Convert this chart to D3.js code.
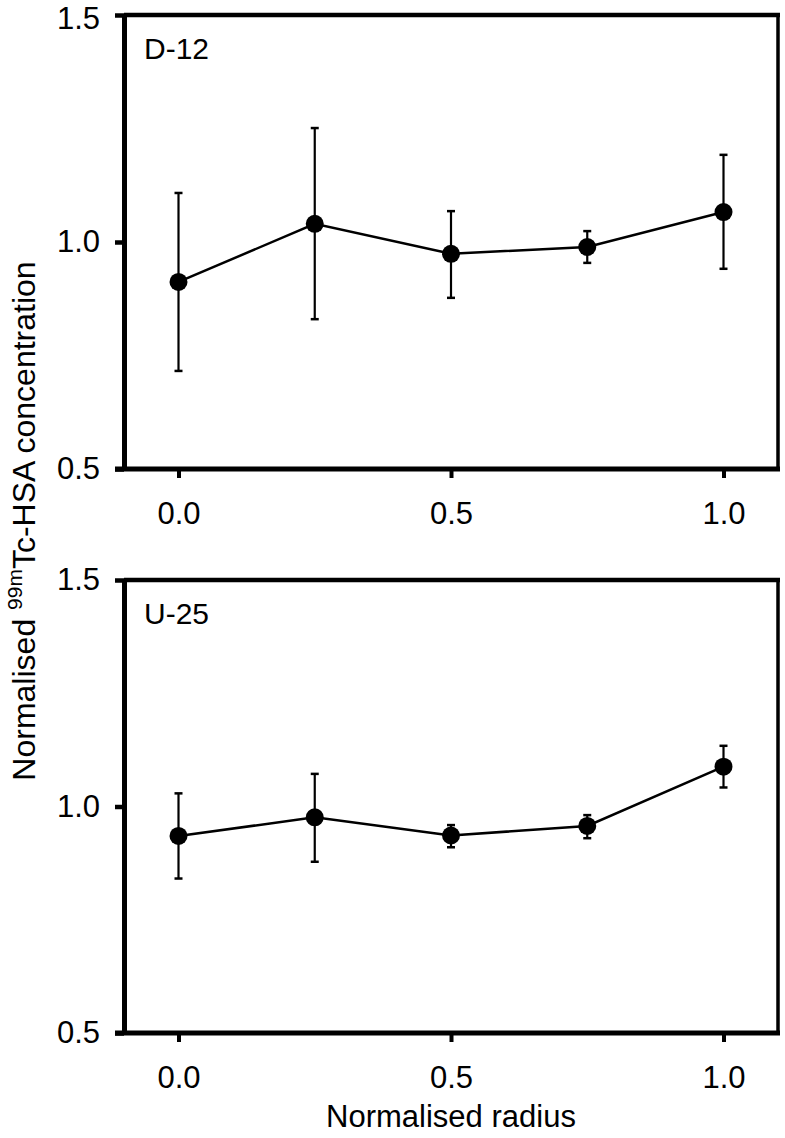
<!DOCTYPE html>
<html>
<head>
<meta charset="utf-8">
<script src="https://cdn.jsdelivr.net/npm/d3@7"></script>
<style>
  html, body { margin: 0; padding: 0; background: #fff; }
  svg { display: block; }
  text { font-family: "Liberation Sans", Arial, Helvetica, sans-serif; fill: #000; }
</style>
</head>
<body>
<svg id="chart" width="785" height="1138"></svg>
<script>
// ---- data ----
const radius = [0.0, 0.25, 0.5, 0.75, 1.0];
const xTickValues = [0.0, 0.5, 1.0];
const xTickLabels = ["0.0", "0.5", "1.0"];
const yTickValues = [0.5, 1.0, 1.5];
const yTickLabels = ["0.5", "1.0", "1.5"];

const panelNames = ["D-12", "U-25"];
const d12Mean  = [0.912, 1.040, 0.974, 0.989, 1.066];
const d12Upper = [1.108, 1.251, 1.068, 1.024, 1.192];
const d12Lower = [0.716, 0.830, 0.877, 0.954, 0.941];
const u25Mean  = [0.935, 0.976, 0.936, 0.957, 1.088];
const u25Upper = [1.029, 1.072, 0.959, 0.981, 1.134];
const u25Lower = [0.841, 0.878, 0.910, 0.930, 1.042];

const xTitle = "Normalised radius";

// ---- layout ----
const svg = d3.select("#chart");
const left = 124, right = 778;
const panels = [
  { name: panelNames[0], top: 15,  bottom: 469,  mean: d12Mean, upper: d12Upper, lower: d12Lower },
  { name: panelNames[1], top: 580, bottom: 1033, mean: u25Mean, upper: u25Upper, lower: u25Lower }
];
const FS = 31;

const x = d3.scaleLinear().domain([-0.1, 1.1]).range([left, right]);

panels.forEach((p, pi) => {
  const y = d3.scaleLinear().domain([0.5, 1.5]).range([p.bottom, p.top]);
  const g = svg.append("g");

  // top and right frame lines
  g.append("line").attr("x1", left).attr("x2", right + 2).attr("y1", p.top).attr("y2", p.top)
    .attr("stroke", "#000").attr("stroke-width", 4.5);
  g.append("line").attr("x1", right).attr("x2", right).attr("y1", p.top).attr("y2", p.bottom)
    .attr("stroke", "#000").attr("stroke-width", 3.5);

  // left axis
  const ya = g.append("g").attr("transform", `translate(${left},0)`)
    .call(d3.axisLeft(y).tickValues(yTickValues).tickFormat((d, i) => yTickLabels[i])
      .tickSizeInner(9).tickSizeOuter(0).tickPadding(15));
  ya.select(".domain").attr("stroke", "#000").attr("stroke-width", 5);
  ya.selectAll(".tick line").attr("stroke", "#000").attr("stroke-width", 4.5);
  ya.selectAll(".tick text").attr("font-size", FS).attr("font-family", "Liberation Sans, Arial, sans-serif");
  if (pi === 0) {
    // keep the top-most label inside the canvas
    ya.selectAll(".tick text").filter(d => d === 1.5).attr("dy", "0.42em");
  }

  // bottom axis
  const xa = g.append("g").attr("transform", `translate(0,${p.bottom})`)
    .call(d3.axisBottom(x).tickValues(xTickValues).tickFormat((d, i) => xTickLabels[i])
      .tickSizeInner(9).tickSizeOuter(0).tickPadding(24));
  xa.select(".domain").attr("stroke", "#000").attr("stroke-width", 5)
    .attr("d", `M${left - 9},0H${right + 2}`);
  xa.selectAll(".tick line").attr("stroke", "#000").attr("stroke-width", 4);
  xa.selectAll(".tick text").attr("font-size", FS).attr("font-family", "Liberation Sans, Arial, sans-serif");

  // panel label
  g.append("text").attr("x", left + 20).attr("y", p.top + 44)
    .attr("font-size", FS - 1).text(p.name);

  const pts = radius.map((r, i) => ({ r, m: p.mean[i], hi: p.upper[i], lo: p.lower[i] }));

  // error bars
  const eb = g.append("g").attr("stroke", "#000").attr("stroke-width", 2.2);
  pts.forEach(d => {
    eb.append("line").attr("x1", x(d.r)).attr("x2", x(d.r)).attr("y1", y(d.hi)).attr("y2", y(d.lo));
    eb.append("line").attr("x1", x(d.r) - 4).attr("x2", x(d.r) + 4).attr("y1", y(d.hi)).attr("y2", y(d.hi)).attr("stroke-width", 2.5);
    eb.append("line").attr("x1", x(d.r) - 4).attr("x2", x(d.r) + 4).attr("y1", y(d.lo)).attr("y2", y(d.lo)).attr("stroke-width", 2.5);
  });

  // line
  g.append("path").datum(pts)
    .attr("fill", "none").attr("stroke", "#000").attr("stroke-width", 2.5)
    .attr("d", d3.line().x(d => x(d.r)).y(d => y(d.m)));

  // markers
  g.selectAll("circle.pt").data(pts).enter().append("circle")
    .attr("class", "pt")
    .attr("cx", d => x(d.r)).attr("cy", d => y(d.m)).attr("r", 9)
    .attr("fill", "#000");
});

// x axis title
svg.append("text").attr("x", (x(0) + x(1)) / 2).attr("y", 1127)
  .attr("text-anchor", "middle").attr("font-size", FS).text(xTitle);

// y axis title (rotated, with superscript)
const yt = svg.append("text")
  .attr("transform", "translate(35,521) rotate(-90)")
  .attr("text-anchor", "middle").attr("font-size", 32);
yt.append("tspan").text("Normalised ");
yt.append("tspan").attr("font-size", 21).attr("dy", -13).text("99m");
yt.append("tspan").attr("dy", 13).text("Tc-HSA concentration");
</script>
</body>
</html>
